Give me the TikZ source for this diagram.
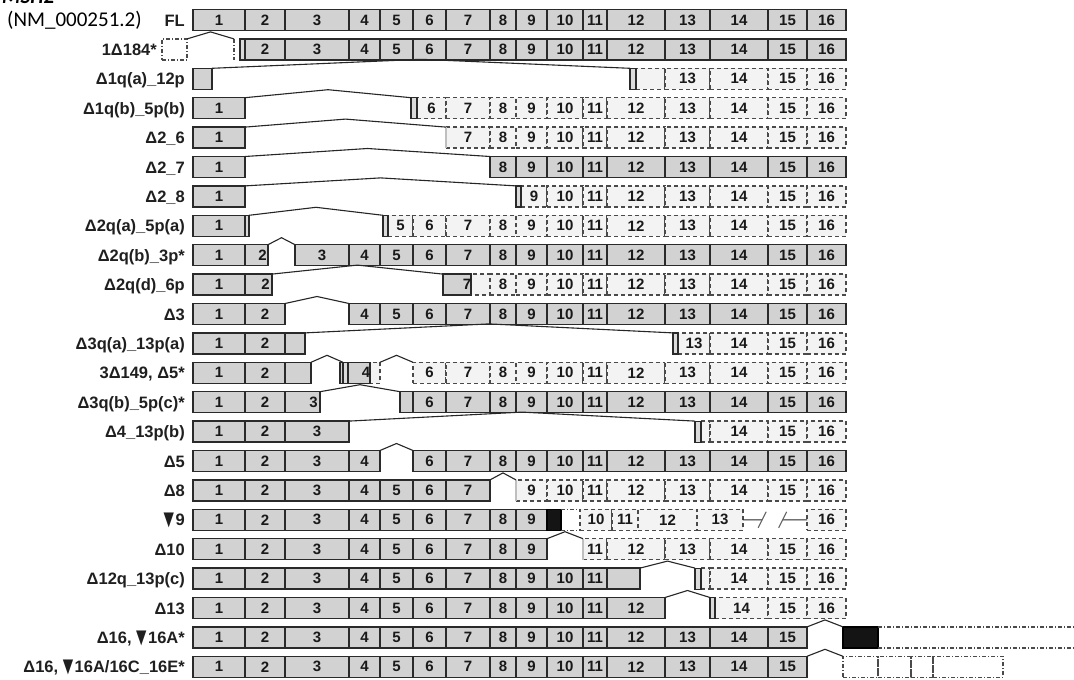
\documentclass[tikz,border=0pt]{standalone}
\usepackage{fontspec}
\usepackage{graphicx}
\setmainfont{Liberation Sans}
\newfontfamily\hdr{Carlito}
\newfontfamily\dvs{DejaVu Sans}
\usetikzlibrary{calc}
\definecolor{sfill}{HTML}{D2D2D2}
\definecolor{dfill}{HTML}{F3F3F3}
\definecolor{bord}{HTML}{2A2A2A}
\def\BB{{193,245,285,349,380,413,446,490,516,547,583,607,665,710,768,807,846}}
\newcommand\tri{\raisebox{0.3pt}{\scalebox{0.9}[1.3]{\dvs\fontsize{15}{15}\selectfont ▼}}\hspace{1.5pt}}
\newcommand{\rowy}[1]{20+29.4*(#1)}
\newcommand{\ebox}[6][sx]{\node[#1, minimum width={(#4-#3)*1pt}] (#2) at ({(#3+#4)/2},{20+29.4*(#5)}) {#6};}
\newcommand{\exons}[4][sx]{\foreach \k in {#3,...,#4}{\pgfmathsetmacro\exA{\BB[\k-1]}\pgfmathsetmacro\exB{\BB[\k]}\node[#1, minimum width={(\exB-\exA)*1pt}] (r#2e\k) at ({(\exA+\exB)/2},{20+29.4*(#2)}) {\k};}}
\newcommand{\junc}[3][7]{\draw[jn] (#2.north east) -- ($(#2.north east)!0.5!(#3.north west)+(0,-#1)$) -- (#3.north west);}
\newcommand{\rlab}[3][185]{\node[lab] (l#2) at (#1,{20+29.4*(#2)+6}) {#3};}
\begin{document}
\begin{tikzpicture}[x=1pt,y=-1pt,
 box/.style={rectangle, inner sep=0pt, outer sep=0pt, minimum height=21pt, font=\bfseries\fontsize{15}{15}\selectfont, text=black!90},
 sx/.style={box, draw=bord, fill=sfill, line width=1.5pt},
 dx/.style={box, draw=bord!85, fill=dfill, line width=1.3pt, dash pattern=on 4pt off 3pt},
 ddx/.style={box, draw=bord!85, line width=1.2pt, dash pattern=on 4pt off 2pt on 1pt off 2pt},
 nb/.style={box, draw=bord, fill=sfill!80, line width=1.2pt},
 bk/.style={box, draw=black, fill=black!92, line width=1.2pt},
 jn/.style={draw=black!85, line width=1.1pt},
 dd/.style={draw=bord!85, line width=1.2pt, dash pattern=on 4pt off 2pt on 1pt off 2pt},
 lg/.style={draw=black!25, line width=1.6pt},
 lab/.style={anchor=base east, inner sep=0pt, font=\bfseries\fontsize{16.5}{18}\selectfont, text=black!88},
]
\clip (0,0) rectangle (1074,680);
\fill[white] (0,0) rectangle (1074,680);
% header
\node[anchor=base west, inner sep=0pt, font=\hdr\bfseries\itshape\fontsize{21}{21}\selectfont] (title) at (2,3) {MSH2};
\node[anchor=base west, inner sep=0pt, font=\hdr\fontsize{21}{21}\selectfont] (nm) at (7,27) {(NM\_000251.2)};
% row 0
\exons{0}{1}{16}
% row 1
\ebox[ddx]{r1a}{162}{187}{1}{}
\coordinate (r1d) at (234,{\rowy{1}-10.5});
\draw[dd] (r1d) -- ++(0,21);
\exons{1}{2}{16}
\ebox[nb]{r1n}{240}{245}{1}{}
\draw[jn] (r1a.north east) -- ($(r1a.north east)!0.5!(r1d)+(0,-7)$) -- (r1d);
% row 2
\ebox{r2a}{193}{212}{2}{}
\ebox[dx]{r2b}{636}{665}{2}{}
\exons[dx]{2}{13}{16}
\ebox[nb]{r2n}{630}{636}{2}{}
\junc[9]{r2a}{r2n}
% row 3
\exons{3}{1}{1}
\ebox[dx]{r3b}{417}{446}{3}{6}
\exons[dx]{3}{7}{16}
\ebox[nb]{r3n}{411}{417}{3}{}
\junc[8]{r3e1}{r3n}
% row 4
\exons{4}{1}{1}
\exons[dx]{4}{7}{16}
\draw[lg] (r4e7.north west) -- (r4e7.south west);
\junc[8]{r4e1}{r4e7}
% row 5
\exons{5}{1}{1}
\exons{5}{8}{16}
\junc[8]{r5e1}{r5e8}
% row 6
\exons{6}{1}{1}
\ebox[dx]{r6b}{521}{547}{6}{9}
\exons[dx]{6}{10}{16}
\ebox[nb]{r6n}{516}{521}{6}{}
\junc[8]{r6e1}{r6n}
% row 7
\exons{7}{1}{1}
\ebox[nb]{r7m}{245}{249}{7}{}
\ebox[dx]{r7b}{388}{413}{7}{5}
\exons[dx]{7}{6}{16}
\ebox[nb]{r7n}{383}{388}{7}{}
\junc[8]{r7m}{r7n}
% row 8
\exons{8}{1}{1}
\ebox{r8b}{245}{268}{8}{\hspace*{12pt}2}
\ebox{r8c}{295}{349}{8}{3}
\exons{8}{4}{16}
\junc{r8b}{r8c}
% row 9
\exons{9}{1}{1}
\ebox{r9b}{245}{272}{9}{\hspace*{14pt}2}
\ebox[dx]{r9d}{468}{490}{9}{}
\ebox{r9c}{446}{468}{9}{\hspace*{20pt}7}
\exons[dx]{9}{8}{16}
\junc[9]{r9b}{r9c}
% row 10
\exons{10}{1}{2}
\exons{10}{4}{16}
\junc{r10e2}{r10e4}
% row 11
\exons{11}{1}{2}
\ebox{r11a}{285}{305}{11}{}
\ebox[dx]{r11b}{678}{710}{11}{13}
\exons[dx]{11}{14}{16}
\ebox[nb]{r11n}{673}{678}{11}{}
\junc[9]{r11a}{r11n}
% row 12
\exons{12}{1}{2}
\ebox{r12a}{285}{311}{12}{}
\ebox[dx]{r12d}{348}{380}{12}{}
\ebox{r12c}{348}{362}{12}{\hspace*{22pt}4}
\ebox[nb]{r12n}{343}{348}{12}{}
\exons[dx]{12}{6}{16}
\junc{r12a}{r12n}
\junc{r12d}{r12e6}
% row 13
\exons{13}{1}{2}
\ebox{r13a}{285}{320}{13}{\hspace*{22pt}3}
\ebox{r13b}{400}{413}{13}{}
\exons{13}{6}{16}
\junc{r13a}{r13b}
% row 14
\exons{14}{1}{3}
\ebox[dx]{r14b}{701}{710}{14}{}
\exons[dx]{14}{14}{16}
\ebox[nb]{r14n}{695}{701}{14}{}
\junc[9]{r14e3}{r14n}
% row 15
\exons{15}{1}{4}
\exons{15}{6}{16}
\junc{r15e4}{r15e6}
% row 16
\exons{16}{1}{7}
\exons[dx]{16}{9}{16}
\draw[lg] (r16e9.north west) -- (r16e9.south west);
\junc{r16e7}{r16e9}
% row 17
\exons{17}{1}{9}
\ebox[bk]{r17k}{547}{561}{17}{}
\ebox[dx]{r17a}{580}{612}{17}{10}
\ebox[dx]{r17b}{612}{638}{17}{11}
\ebox[dx]{r17c}{638}{697}{17}{12}
\ebox[dx]{r17d}{697}{743}{17}{13}
\ebox[dx]{r17e}{807}{846}{17}{16}
\draw[dd] (r17k.north east) -- (r17a.north west);
\draw[dd] (r17k.south east) -- (r17a.south west);
\coordinate (s1) at ($(r17d.east)!0.3!(r17e.west)$);
\coordinate (s2) at ($(r17d.east)!0.62!(r17e.west)$);
\draw[jn] (r17d.east) -- (s1);
\draw[jn] (s2) -- (r17e.west);
\draw[jn, black!60] ($(s1)+(-4,8)$) -- ($(s1)+(4,-8)$);
\draw[jn, black!60] ($(s2)+(-4,8)$) -- ($(s2)+(4,-8)$);
% row 18
\exons{18}{1}{9}
\exons[dx]{18}{11}{16}
\draw[lg] (r18e11.north west) -- (r18e11.south west);
\junc{r18e9}{r18e11}
% row 19
\exons{19}{1}{11}
\ebox{r19a}{607}{640}{19}{}
\ebox[dx]{r19b}{701}{710}{19}{}
\exons[dx]{19}{14}{16}
\ebox[nb]{r19n}{695}{701}{19}{}
\junc{r19a}{r19n}
% row 20
\exons{20}{1}{12}
\ebox[dx]{r20b}{715}{768}{20}{14}
\exons[dx]{20}{15}{16}
\ebox[nb]{r20n}{710}{715}{20}{}
\junc{r20e12}{r20n}
% row 21
\exons{21}{1}{15}
\ebox[bk]{r21k}{843}{878}{21}{}
\coordinate (r21t) at (1074,{\rowy{21}-10.5});
\coordinate (r21b) at (1074,{\rowy{21}+10.5});
\draw[dd] (r21k.north east) -- (r21t);
\draw[dd] (r21k.south east) -- (r21b);
\junc{r21e15}{r21k}
% row 22
\exons{22}{1}{15}
\ebox[ddx]{r22a}{843}{878}{22}{}
\ebox[ddx]{r22b}{878}{911}{22}{}
\ebox[ddx]{r22c}{911}{933}{22}{}
\ebox[ddx]{r22d}{933}{1003}{22}{}
\junc{r22e15}{r22a}
% labels
\rlab{0}{FL}
\rlab[157]{1}{1Δ184*}
\rlab{2}{Δ1q(a)\_12p}
\rlab{3}{Δ1q(b)\_5p(b)}
\rlab{4}{Δ2\_6}
\rlab{5}{Δ2\_7}
\rlab{6}{Δ2\_8}
\rlab{7}{Δ2q(a)\_5p(a)}
\rlab{8}{Δ2q(b)\_3p*}
\rlab{9}{Δ2q(d)\_6p}
\rlab{10}{Δ3}
\rlab{11}{Δ3q(a)\_13p(a)}
\rlab{12}{3Δ149, Δ5*}
\rlab{13}{Δ3q(b)\_5p(c)*}
\rlab{14}{Δ4\_13p(b)}
\rlab{15}{Δ5}
\rlab{16}{Δ8}
\rlab{17}{\tri9}
\rlab{18}{Δ10}
\rlab{19}{Δ12q\_13p(c)}
\rlab{20}{Δ13}
\rlab{21}{Δ16, \tri16A*}
\rlab{22}{Δ16, \tri16A/16C\_16E*}
\end{tikzpicture}
\end{document}
